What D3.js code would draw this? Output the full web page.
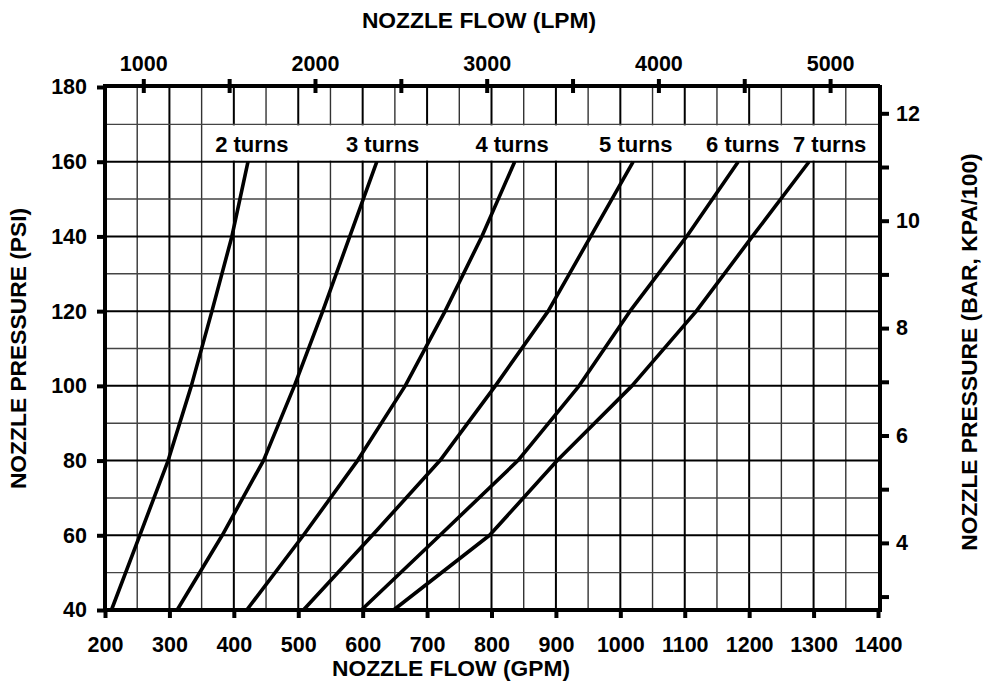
<!DOCTYPE html>
<html>
<head>
<meta charset="utf-8">
<script src="https://cdn.jsdelivr.net/npm/d3@7"></script>
<style>
  html, body { margin: 0; padding: 0; background: #fff; }
  svg { display: block; }
  text { font-family: "Liberation Sans", Arial, sans-serif; font-weight: bold; fill: #000; }
</style>
</head>
<body>
<svg id="chart" width="984" height="687"></svg>
<script>
// ---------- data ----------
const pressurePsi = [40, 60, 80, 100, 120, 140, 160];
const turns2 = [210, 254, 298, 334, 366, 397, 422];
const turns3 = [312, 382, 446, 494, 538, 580, 622];
const turns4 = [420, 508, 592, 666, 728, 785, 836];
const turns5 = [508, 615, 720, 806, 888, 954, 1020];
const turns6 = [598, 720, 841, 936, 1015, 1103, 1183];
const turns7 = [648, 797, 902, 1018, 1118, 1205, 1293];
const seriesNames = ["2 turns", "3 turns", "4 turns", "5 turns", "6 turns", "7 turns"];
const labelGpm = [428, 631, 832, 1024, 1190, 1325];
const labelPsi = 162.5;

const gpmTicks = [200, 300, 400, 500, 600, 700, 800, 900, 1000, 1100, 1200, 1300, 1400];
const psiTicks = [40, 60, 80, 100, 120, 140, 160, 180];
const lpmTicks = [1000, 1500, 2000, 2500, 3000, 3500, 4000, 4500, 5000];
const lpmLabels = [1000, 2000, 3000, 4000, 5000];
const barTicks = [3, 4, 5, 6, 7, 8, 9, 10, 11, 12];
const barLabels = [4, 6, 8, 10, 12];
const gridGpm = [250, 300, 350, 400, 450, 500, 550, 600, 650, 700, 750, 800, 850, 900, 950, 1000, 1050, 1100, 1150, 1200, 1250, 1300, 1350];
const gridPsi = [50, 60, 70, 80, 90, 100, 110, 120, 130, 140, 150, 160, 170];

const gpmDomain = [200, 1400];
const psiDomain = [40, 180];
const lpmDomain = [777, 5279];
const barDomain = [2.75, 12.49];
const labelBoxGpm = [355, 1400];
const labelBoxPsi = [160, 170];

// ---------- layout ----------
const L = 105, R = 878, T = 87, B = 610;
const FONT = "Liberation Sans, Arial, sans-serif";
const svg = d3.select("#chart");
svg.append("rect").attr("width", 984).attr("height", 687).attr("fill", "#fff");

const x = d3.scaleLinear().domain(gpmDomain).range([L, R]);
const y = d3.scaleLinear().domain(psiDomain).range([B, T]);
const xL = d3.scaleLinear().domain(lpmDomain).range([L, R]);
const yB = d3.scaleLinear().domain(barDomain).range([B, T]);
const fmt = d3.format("d");

// vertical grid
svg.append("g").selectAll("line").data(gridGpm).join("line")
  .attr("x1", d => x(d)).attr("x2", d => x(d))
  .attr("y1", T).attr("y2", B)
  .attr("stroke", d => d % 100 === 0 ? "#000" : "#333")
  .attr("stroke-width", d => d % 100 === 0 ? 2 : 1.4);

// white label box
svg.append("rect")
  .attr("x", x(labelBoxGpm[0])).attr("width", x(labelBoxGpm[1]) - x(labelBoxGpm[0]))
  .attr("y", y(labelBoxPsi[1]) + 1).attr("height", y(labelBoxPsi[0]) - y(labelBoxPsi[1]) - 2)
  .attr("fill", "#fff");

// horizontal grid
svg.append("g").selectAll("line").data(gridPsi).join("line")
  .attr("x1", L).attr("x2", R)
  .attr("y1", d => y(d)).attr("y2", d => y(d))
  .attr("stroke", d => d % 20 === 0 ? "#000" : "#444")
  .attr("stroke-width", d => d % 20 === 0 ? 2 : 1.4);

// axes frame
const frame = svg.append("g").attr("stroke", "#000").attr("stroke-width", 4).attr("stroke-linecap", "square");
frame.append("line").attr("x1", L).attr("x2", R).attr("y1", T - 1).attr("y2", T - 1);
frame.append("line").attr("x1", L).attr("x2", R).attr("y1", B).attr("y2", B);
frame.append("line").attr("x1", L).attr("x2", L).attr("y1", T).attr("y2", B);
frame.append("line").attr("x1", R + 2).attr("x2", R + 2).attr("y1", T).attr("y2", B);

function styleText(g, size) {
  g.selectAll(".tick text").attr("font-size", size).attr("font-family", FONT).attr("font-weight", "bold").attr("fill", "#000");
}

// bottom axis
const gB = svg.append("g").attr("transform", `translate(0,${B})`)
  .call(d3.axisBottom(x).tickValues(gpmTicks).tickSize(8).tickPadding(19).tickFormat(fmt));
gB.select(".domain").remove();
gB.selectAll(".tick line").attr("stroke", "#000").attr("stroke-width", 4);
styleText(gB, 21.5);

// left axis
const gLft = svg.append("g").attr("transform", `translate(${L},0)`)
  .call(d3.axisLeft(y).tickValues(psiTicks).tickSize(8).tickPadding(10).tickFormat(fmt));
gLft.select(".domain").remove();
gLft.selectAll(".tick line").attr("stroke", "#000").attr("stroke-width", 4);
styleText(gLft, 21.5);

// top axis (LPM)
const gTop = svg.append("g").attr("transform", `translate(0,${T - 1})`)
  .call(d3.axisTop(xL).tickValues(lpmTicks).tickSize(14).tickPadding(2)
    .tickFormat(d => lpmLabels.includes(d) ? fmt(d) : ""));
gTop.select(".domain").remove();
gTop.selectAll(".tick line").attr("stroke", "#000").attr("stroke-width", 4).attr("transform", "translate(0,7)");
styleText(gTop, 21.5);
gTop.selectAll(".tick text").attr("y", -15).attr("dy", 0);

// right axis (bar)
const gR = svg.append("g").attr("transform", `translate(${R + 2},0)`)
  .call(d3.axisRight(yB).tickValues(barTicks).tickSize(9).tickPadding(7)
    .tickFormat(d => barLabels.includes(d) ? fmt(d) : ""));
gR.select(".domain").remove();
gR.selectAll(".tick line").attr("stroke", "#000").attr("stroke-width", 4);
styleText(gR, 21.5);

// curves
const allSeries = [turns2, turns3, turns4, turns5, turns6, turns7];
const line = d3.line().x(d => x(d[0])).y(d => y(d[1]));
svg.append("g").selectAll("path").data(allSeries).join("path")
  .attr("d", s => line(s.map((g, i) => [g, pressurePsi[i]])))
  .attr("fill", "none").attr("stroke", "#000").attr("stroke-width", 3.6)
  .attr("stroke-linejoin", "round");

// curve labels
svg.append("g").selectAll("text").data(seriesNames).join("text")
  .attr("x", (d, i) => x(labelGpm[i])).attr("y", y(labelPsi))
  .attr("text-anchor", "middle").attr("font-size", 22)
  .text(d => d);

// titles
svg.append("text").attr("x", 479).attr("y", 28).attr("text-anchor", "middle")
  .attr("font-size", 22.8).text("NOZZLE FLOW (LPM)");
svg.append("text").attr("x", 451).attr("y", 676).attr("text-anchor", "middle")
  .attr("font-size", 22.8).text("NOZZLE FLOW (GPM)");
svg.append("text").attr("transform", `translate(26,${(T + B) / 2}) rotate(-90)`)
  .attr("text-anchor", "middle").attr("font-size", 22.8).text("NOZZLE PRESSURE (PSI)");
svg.append("text").attr("transform", `translate(977,352) rotate(-90)`)
  .attr("text-anchor", "middle").attr("font-size", 22.8).text("NOZZLE PRESSURE (BAR, KPA/100)");
</script>
</body>
</html>
